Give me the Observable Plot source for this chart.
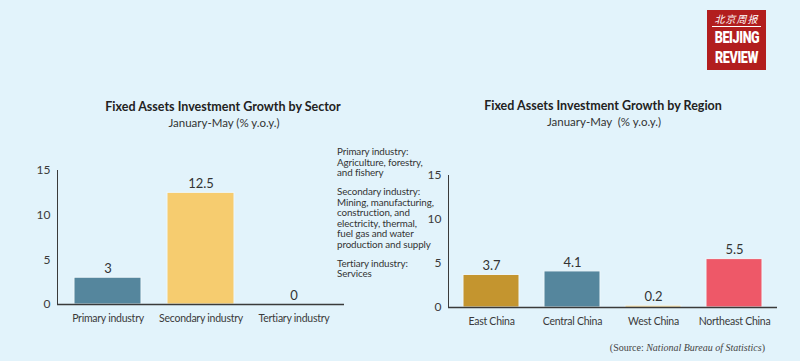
<!DOCTYPE html>
<html><head><meta charset="utf-8">
<script src="https://cdn.jsdelivr.net/npm/d3@7"></script>
<script src="https://cdn.jsdelivr.net/npm/@observablehq/plot@0.6"></script>
<style>
html,body{margin:0;padding:0;}
#root{position:relative;width:800px;height:361px;background:#e2f3fb;overflow:hidden;font-family:Lato,"Open Sans",sans-serif;color:#333;}
.abs{position:absolute;}
.title{font-weight:bold;font-size:12.5px;color:#222;white-space:nowrap;transform:translateX(-50%);}
.sub{font-size:11.5px;color:#333;white-space:nowrap;transform:translateX(-50%);}
#notes{left:337px;top:146px;font-size:9.8px;line-height:10.5px;color:#333;width:100px;letter-spacing:-0.1px;}
#notes p{margin:0 0 8.5px 0;}
#logo{left:707px;top:10px;width:59px;height:60px;background:#b21e1e;color:#fff;text-align:center;overflow:hidden;}
#source{right:35px;top:342px;font-family:"Liberation Serif",serif;font-size:10px;color:#444;white-space:nowrap;}
.bigword{font-family:Roboto,sans-serif;font-weight:900;font-size:17px;line-height:20px;height:20px;transform:scaleX(0.74);letter-spacing:-0.5px;}
</style></head><body>
<div id="root">
  <div class="abs title" style="left:223px;top:99px;">Fixed Assets Investment Growth by Sector</div>
  <div class="abs sub" style="left:224px;top:116px;">January-May (% y.o.y.)</div>
  <div class="abs title" style="left:603px;top:98px;">Fixed Assets Investment Growth by Region</div>
  <div class="abs sub" style="left:604px;top:115px;">January-May&nbsp; (% y.o.y.)</div>
  <div id="notes" class="abs">
    <p>Primary industry:<br>Agriculture, forestry,<br>and fishery</p>
    <p>Secondary industry:<br>Mining, manufacturing,<br>construction, and<br>electricity, thermal,<br>fuel gas and water<br>production and supply</p>
    <p>Tertiary industry:<br>Services</p>
  </div>
  <div id="logo" class="abs">
    <div style="font-family:'Noto Sans CJK SC';font-size:10px;line-height:11px;height:11px;margin-top:3px;font-style:italic;letter-spacing:1px;">北京周报</div>
    <div style="height:1px;background:#fff;margin:2px 5px 0px 5px;"></div>
    <div class="bigword">BEIJING</div>
    <div class="bigword">REVIEW</div>
  </div>
  <div id="chart1" class="abs" style="left:0px;top:140px;"></div>
  <div id="chart2" class="abs" style="left:410px;top:145px;"></div>
  <div id="source" class="abs">(Source: <i>National Bureau of Statistics</i>)</div>
</div>
<script>
const sectors = ["Primary industry", "Secondary industry", "Tertiary industry"];
const sectorValues = [3, 12.5, 0];
const regions = ["East China", "Central China", "West China", "Northeast China"];
const regionValues = [3.7, 4.1, 0.2, 5.5];
const yTicks = [0, 5, 10, 15];

const sectorColors = ["#55869d", "#f6cc6f", "#f6cc6f"];
const regionColors = ["#c4952f", "#55869d", "#f3c663", "#ee5868"];

function barChart(names, values, colors, opts) {
  const data = names.map((n, i) => ({name: n, value: values[i]}));
  const svg = Plot.plot({
    width: opts.width, height: 200,
    marginLeft: opts.marginLeft, marginRight: opts.marginRight,
    marginTop: 30, marginBottom: opts.marginBottom,
    style: {background: "transparent", fontFamily: "Lato, 'Open Sans', sans-serif", fontSize: "12px", color: "#3a3a3a"},
    x: {domain: names, paddingInner: opts.pi, paddingOuter: opts.po, label: null, tickSize: 0, tickPadding: 10},
    y: {domain: [0, 15], ticks: yTicks, label: null, tickSize: 0, tickPadding: 7, line: true},
    color: {domain: names, range: colors},
    marks: [
      Plot.barY(data, {x: "name", y: "value", fill: "name", stroke: "#eef8fc", strokeWidth: 1}),
      Plot.ruleY([0], {stroke: "#3a3a3a", strokeWidth: 1.3}),
      Plot.text(data, {x: "name", y: "value", text: d => String(d.value), dy: -9, fontSize: 13, fill: "#333"})
    ]
  });
  // shrink category tick labels on the x axis
  svg.querySelectorAll('g[aria-label="x-axis tick label"] text, g[aria-label="x-axis"] text').forEach(t => {
    t.setAttribute("font-size", "10.5px");
    t.style.letterSpacing = "-0.25px";
  });
  return svg;
}

document.getElementById("chart1").appendChild(
  barChart(sectors, sectorValues, sectorColors, {width: 345, marginLeft: 57, marginRight: 1, marginBottom: 36, pi: 0.28, po: 0.18})
);
document.getElementById("chart2").appendChild(
  barChart(regions, regionValues, regionColors, {width: 370, marginLeft: 38, marginRight: 3, marginBottom: 38, pi: 0.31, po: 0.18})
);
</script>
</body></html>
